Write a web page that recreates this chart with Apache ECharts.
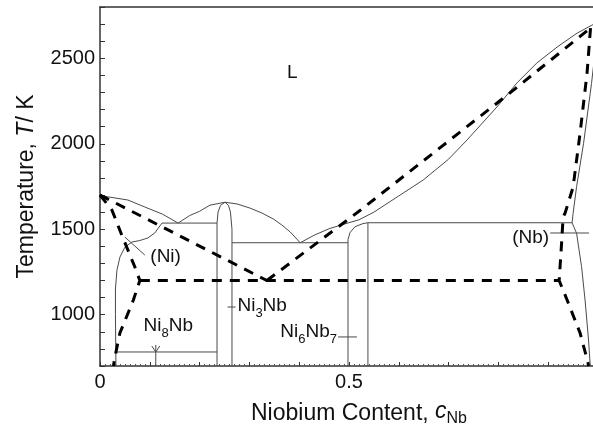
<!DOCTYPE html>
<html><head><meta charset="utf-8">
<script src="https://cdn.jsdelivr.net/npm/echarts@6/dist/echarts.min.js"></script>
<style>html,body{margin:0;padding:0;background:#fff}#c{width:593px;height:430px}</style>
</head><body><div id="c"></div>
<script>
// ---- tick labels ----
const xTickLabels = ['0', '0.5'];
const yTickLabels = ['1000', '1500', '2000', '2500'];

// ---- thin solid phase boundaries [c_Nb, T] ----
const liquidusNi = [[0,1700],[0.015,1690],[0.056,1671],[0.09,1630],[0.125,1589],[0.157,1536]];
const liquidusNi3Nb = [[0.157,1536],[0.18,1580],[0.2,1605],[0.221,1641],[0.251,1658],[0.275,1648],[0.301,1624],[0.325,1595],[0.348,1560],[0.365,1525],[0.382,1484],[0.402,1421]];
const liquidusNb = [[0.402,1421],[0.43,1465],[0.46,1503],[0.49,1530],[0.52,1555],[0.55,1600],[0.6,1695],[0.649,1788],[0.7,1910],[0.737,2022],[0.797,2215],[0.837,2355],[0.877,2472],[0.918,2566],[0.958,2647],[0.988,2694],[1.0,2712]];
const solvusNi = [[0.1245,1536],[0.11,1478],[0.096,1449],[0.08,1434],[0.064,1425],[0.05,1395],[0.04,1337],[0.034,1260],[0.031,1150],[0.031,1000],[0.032,700]];
const eutecticNi = [[0.1245,1536],[0.235,1536]];
const ni3NbLeft = [[0.235,700],[0.235,1536],[0.237,1600],[0.242,1640],[0.251,1658]];
const ni3NbRight = [[0.251,1658],[0.258,1640],[0.262,1600],[0.265,1500],[0.265,700]];
const eutecticNb = [[0.265,1421],[0.498,1421]];
const ni6Nb7Left = [[0.498,700],[0.498,1440],[0.502,1480],[0.512,1515],[0.528,1533],[0.538,1538]];
const ni6Nb7Right = [[0.538,700],[0.538,1538]];
const peritectic = [[0.538,1538],[0.948,1538]];
const solidusNb = [[1.0,2712],[0.995,2560],[0.987,2353],[0.971,2002],[0.957,1749],[0.950,1593],[0.948,1538],[0.957,1476],[0.967,1281],[0.974,1086],[0.981,852],[0.984,718],[0.985,700]];
const ni8NbLine = [[0.032,782],[0.235,782]];
const ni8NbArrow = [[0.112,700],[0.112,823]];
const ni8NbHead = [[0.104,817],[0.112,782],[0.120,817]];
const ni3NbMark = [[0.256,1045],[0.272,1045]];
const ni6Nb7Mark = [[0.478,870],[0.516,870]];
const nbMark = [[0.904,1478],[0.982,1478]];
const niLeader = [[0.050,1454],[0.090,1349]];

// ---- thick dashed (calculated) boundaries ----
const dashNiLiquidus = [[0,1700],[0.335,1200]];
const dashNbLiquidus = [[0.335,1200],[0.52,1605],[0.82,2290],[0.985,2677]];
const dashNbSide = [[0.985,2677],[0.978,2413],[0.964,2062],[0.950,1747],[0.934,1595],[0.930,1572],[0.926,1378],[0.922,1200],[0.938,1086],[0.964,893],[0.980,718],[0.981,700]];
const dashEutectoid = [[0.080,1200],[0.922,1200]];
const dashNiSide = [[0,1700],[0.024,1612],[0.046,1449],[0.070,1279],[0.080,1200],[0.067,1086],[0.040,893],[0.030,753],[0.027,700]];

// ---- annotations ----
const annotTexts = ['L', '(Ni)', '{n|Ni}{s|3}{n|Nb}', '{n|Ni}{s|8}{n|Nb}', '{n|Ni}{s|6}{n|Nb}{s|7}', '(Nb)'];
const annotAnchors = [[0.386,2413],[0.100,1337],[0.275,1039],[0.137,922],[0.477,887],[0.903,1449]];
const annotPlace = ['inside','right','right','inside','left','left'];

const TXT = '#111', FONT = 'Liberation Sans, Arial, sans-serif';
const richSub = {
  n: {fontSize: 19, color: TXT, fontFamily: FONT, verticalAlign: 'bottom', padding: [0,0,4,0]},
  s: {fontSize: 13, color: TXT, fontFamily: FONT, verticalAlign: 'bottom'}
};

function thin(data) {
  return {type:'line', data, symbol:'none', showSymbol:false, silent:true, clip:true,
    lineStyle:{color:'#4a4a4a', width:1}, z:2};
}
function dashed(data) {
  return {type:'line', data, symbol:'none', showSymbol:false, silent:true, clip:true,
    lineStyle:{color:'#000', width:3, type:[10,8]}, z:3};
}

const thinSets = [liquidusNi, liquidusNi3Nb, liquidusNb, solvusNi, eutecticNi, ni3NbLeft, ni3NbRight,
  eutecticNb, ni6Nb7Left, ni6Nb7Right, peritectic, solidusNb, ni8NbLine, ni8NbArrow, ni8NbHead,
  ni3NbMark, ni6Nb7Mark, nbMark, niLeader];
const dashSets = [dashNiLiquidus, dashNbLiquidus, dashNbSide, dashEutectoid, dashNiSide];

const series = thinSets.map(thin).concat(dashSets.map(dashed));
series.push({
  type:'scatter', symbolSize:1, itemStyle:{color:'rgba(0,0,0,0)'}, silent:true, z:5,
  data: annotAnchors.map((p,i) => ({
    value: p,
    label: {show:true, position: annotPlace[i], distance: 0, formatter: annotTexts[i],
      fontSize:19, color:TXT, opacity:1, fontFamily:FONT, rich: richSub}
  }))
});

const chart = echarts.init(document.getElementById('c'), null, {renderer:'canvas'});
chart.setOption({
  animation:false,
  backgroundColor:'#fff',
  grid:{left:100, top:7, width:498, height:359, outerBoundsMode:'none', containLabel:false},
  xAxis:[{
    type:'value', min:0, max:1, interval:0.1, position:'bottom',
    axisLine:{show:true, onZero:false, lineStyle:{color:'#333', width:1.5}},
    axisTick:{show:true, inside:true, length:4, lineStyle:{color:'#333'}},
    minorTick:{show:true, splitNumber:10, length:2, lineStyle:{color:'#555'}},
    splitLine:{show:false},
    axisLabel:{margin:6, fontSize:20, color:TXT, fontFamily:FONT,
      formatter: v => { const s = String(Math.round(v*100)/100); return xTickLabels.includes(s) ? s : ''; }},
    name:'Niobium Content, {i|c}{s|Nb}', nameLocation:'middle', nameGap:34,
    nameTextStyle:{fontSize:23, color:TXT, fontFamily:FONT, padding:[0,0,0,20],
      rich:{i:{fontSize:23, fontStyle:'italic', color:TXT, fontFamily:FONT, verticalAlign:'bottom', padding:[0,0,4,0]},
            s:{fontSize:16, color:TXT, fontFamily:FONT, verticalAlign:'bottom'}}}
  },{
    type:'value', min:0, max:1, position:'top',
    axisLine:{show:true, onZero:false, lineStyle:{color:'#333', width:1.5}},
    axisTick:{show:false}, axisLabel:{show:false}, splitLine:{show:false}
  }],
  yAxis:{
    type:'value', min:700, max:2800, interval:100,
    axisLine:{show:true, onZero:false, lineStyle:{color:'#333', width:1.5}},
    axisTick:{show:true, inside:true, length:5, lineStyle:{color:'#333'}},
    splitLine:{show:false},
    axisLabel:{margin:5, fontSize:20, color:TXT, fontFamily:FONT,
      formatter: v => yTickLabels.includes(String(v)) ? String(v) : ''},
    name:'Temperature, {i|T}/ K', nameLocation:'middle', nameGap:62,
    nameTextStyle:{fontSize:23, color:TXT, fontFamily:FONT,
      rich:{i:{fontSize:23, fontStyle:'italic', color:TXT, fontFamily:FONT}}}
  },
  series
});
</script>
</body></html>
